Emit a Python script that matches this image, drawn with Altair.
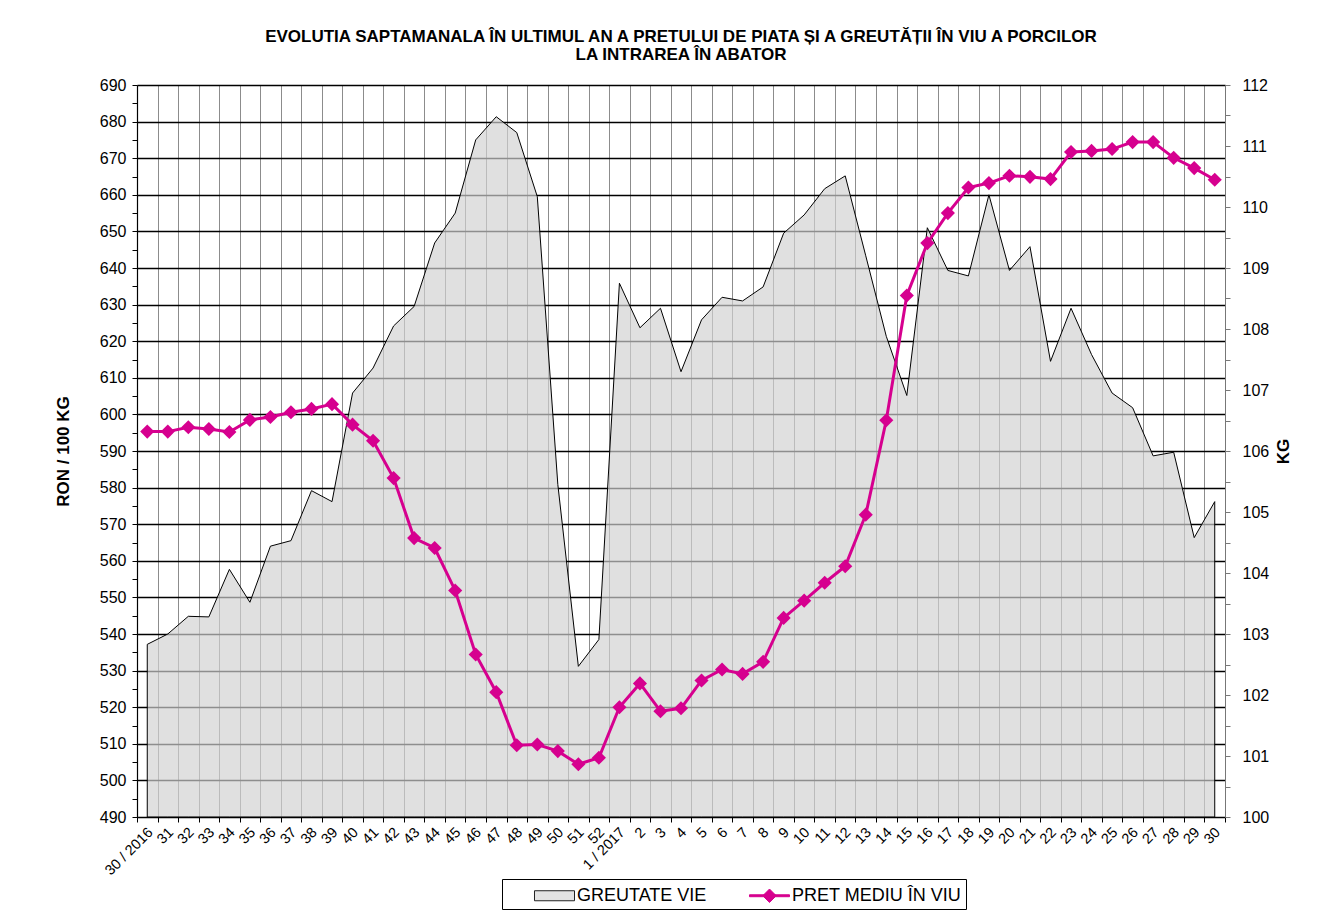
import json
import altair as alt
import pandas as pd

weeks = ["30 / 2016", "31", "32", "33", "34", "35", "36", "37", "38", "39", "40",
         "41", "42", "43", "44", "45", "46", "47", "48", "49", "50", "51", "52",
         "1 / 2017", "2", "3", "4", "5", "6", "7", "8", "9", "10", "11", "12", "13",
         "14", "15", "16", "17", "18", "19", "20", "21", "22", "23", "24", "25", "26",
         "27", "28", "29", "30"]

greutate_vie = [102.83, 103.00, 103.29, 103.28, 104.06, 103.52, 104.44, 104.53, 105.35, 105.17,
                106.95, 107.36, 108.05, 108.37, 109.41, 109.90, 111.10, 111.48, 111.22, 110.17,
                105.45, 102.47, 102.91, 108.75, 108.02, 108.34, 107.30, 108.15, 108.52, 108.46,
                108.69, 109.57, 109.87, 110.30, 110.51, 109.20, 107.88, 106.91, 109.66, 108.96,
                108.87, 110.20, 108.96, 109.35, 107.47, 108.34, 107.58, 106.95, 106.71, 105.92,
                105.98, 104.58, 105.17]

pret_mediu = [595.3, 595.3, 596.5, 596.0, 595.2, 598.5, 599.3, 600.6, 601.5, 602.8,
              597.2, 592.8, 582.6, 566.2, 563.5, 551.9, 534.4, 524.1, 509.6, 509.8,
              508.0, 504.4, 506.2, 520.0, 526.5, 518.9, 519.7, 527.3, 530.3, 529.1,
              532.4, 544.4, 549.1, 554.0, 558.5, 572.6, 598.4, 632.5, 646.8, 655.0,
              662.0, 663.2, 665.2, 664.9, 664.3, 671.7, 672.0, 672.5, 674.4, 674.4,
              670.1, 667.3, 664.1]

series_names = ["GREUTATE VIE", "PRET MEDIU ÎN VIU"]
title_lines = ["EVOLUTIA SAPTAMANALA ÎN ULTIMUL AN A PRETULUI  DE PIATA ȘI A GREUTĂȚII  ÎN VIU A PORCILOR",
               "LA INTRAREA ÎN ABATOR"]

MAGENTA = "#d6008f"
FONT = "Liberation Sans"

n = len(weeks)
df_g = pd.DataFrame({"idx": list(range(n)), "week": weeks, "kg": greutate_vie})
df_p = pd.DataFrame({"idx": list(range(n)), "week": weeks, "pret": pret_mediu})
df_leg = pd.DataFrame({"serie": series_names, "idx": [0, 0], "v": [0, 0]})

label_expr = "(" + json.dumps(weeks, ensure_ascii=False) + ")[round(datum.value + 0.5)] || ''"
x_ticks = [i - 0.5 for i in range(n + 1)]
band = 1088 / n

x_enc = alt.X(
    "idx:Q",
    scale=alt.Scale(domain=[-0.5, n - 0.5], nice=False, zero=False),
    axis=alt.Axis(values=x_ticks, labelExpr=label_expr, title=None, grid=True,
                  gridColor="#8c8c8c", gridWidth=1, tickColor="black", tickSize=5,
                  domainColor="black", domainWidth=1.2, labelAngle=315, labelAlign="right",
                  labelBaseline="middle", labelOffset=band / 2 + 3, labelPadding=8,
                  labelFontSize=14.5, labelOverlap=False, labelFlush=False, labelBound=False,
                  labelColor="black"),
)

area = alt.Chart(df_g).mark_area(
    fill="#d2d2d2", fillOpacity=0.68, stroke="black", strokeWidth=1, interpolate="linear"
).encode(
    x=x_enc,
    y=alt.Y("kg:Q", scale=alt.Scale(domain=[100, 112], nice=False, zero=False),
            axis=alt.Axis(orient="right", values=[100 + 0.5 * i for i in range(25)],
                          labelExpr="datum.value % 1 == 0 ? format(datum.value, 'd') : ''",
                          grid=False, tickColor="#777", tickSize=5, domainColor="#777",
                          labelFontSize=16, labelPadding=12, labelColor="black",
                          title="KG", titleFontSize=17, titleFontWeight="bold",
                          titleAngle=270, titlePadding=24, titleColor="black")),
    y2=alt.datum(100),
)

line = alt.Chart(df_p).mark_line(
    color=MAGENTA, strokeWidth=3,
    point=alt.OverlayMarkDef(shape="diamond", size=200, filled=True, color=MAGENTA),
).encode(
    x=x_enc,
    y=alt.Y("pret:Q", scale=alt.Scale(domain=[490, 690], nice=False, zero=False),
            axis=alt.Axis(orient="left", values=list(range(490, 691, 5)),
                          labelExpr="datum.value % 10 == 0 ? datum.label : ''",
                          grid=True, gridColor="black", gridWidth=1.3,
                          gridOpacity={"condition": {"test": "datum.value % 10 != 0", "value": 0}, "value": 1},
                          tickColor="black", tickSize=5, domainColor="black", domainWidth=1.2,
                          labelFontSize=16, labelPadding=6, labelColor="black",
                          title="RON / 100 KG", titleFontSize=17, titleFontWeight="bold",
                          titlePadding=27, titleColor="black")),
)

rect_path = "M-1.667,-0.417H1.667V0.417H-1.667Z"
line_path = "M-1.667,-0.08H1.667V0.08H-1.667Z M-0.56,0L0,-0.56L0.56,0L0,0.56Z"
leg = alt.Legend(
    title=" ", titleOrient="left", titleFontSize=1, titlePadding=36,
    orient="none", legendX=365, legendY=794, direction="horizontal",
    strokeColor="black", fillColor="white", padding=4, cornerRadius=0,
    symbolSize=576, symbolOpacity=1, symbolStrokeWidth=1,
    labelFontSize=18, labelOffset=10, columnPadding=40, labelColor="black", labelLimit=400,
    labelExpr="datum.value == 'PRET MEDIU ÎN VIU' ? datum.label + '\u00a0\u00a0\u00a0\u00a0\u00a0' : datum.label",
)
legend_layer = alt.Chart(df_leg).mark_point(opacity=0, filled=True, size=576).encode(
    x=x_enc,
    y=alt.Y("v:Q", axis=None),
    fill=alt.Fill("serie:N", scale=alt.Scale(domain=series_names, range=["#e3e3e3", MAGENTA]), legend=leg),
    stroke=alt.Stroke("serie:N", scale=alt.Scale(domain=series_names, range=["#222222", MAGENTA]), legend=leg),
    shape=alt.Shape("serie:N", scale=alt.Scale(domain=series_names, range=[rect_path, line_path]), legend=leg),
)

chart = alt.layer(area, line, legend_layer).resolve_scale(y="independent").properties(
    width=1088, height=732,
    autosize=alt.AutoSizeParams(type="none"),
    padding={"left": 129, "top": 77, "right": 105, "bottom": 97},
    title=alt.TitleParams(text=title_lines, font=FONT, fontSize=17, fontWeight="bold",
                          anchor="middle", frame="group", offset=13, lineHeight=18, color="black"),
).configure(
    font=FONT,
    background="white",
).configure_axis(
    labelFont=FONT, titleFont=FONT,
).configure_legend(
    labelFont=FONT, titleFont=FONT,
).configure_view(stroke=None)

chart.save("out.html", embed_options={"renderer": "svg", "actions": False})
